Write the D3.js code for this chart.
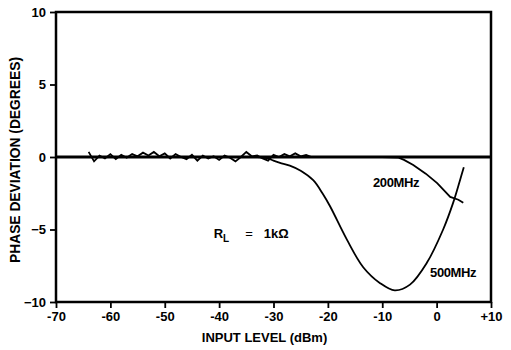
<!DOCTYPE html>
<html>
<head>
<meta charset="utf-8">
<script src="https://cdn.jsdelivr.net/npm/d3@7"></script>
<style>
  body { margin: 0; background: #fff; }
  text { font-family: "Liberation Sans", Arial, sans-serif; font-weight: bold; fill: #000; }
</style>
</head>
<body>
<div id="chart"></div>
<script>
// input level (dBm) / phase deviation (degrees)
var xTicks = [-70, -60, -50, -40, -30, -20, -10, 0, 10];
var xTickLabels = ['-70', '-60', '-50', '-40', '-30', '-20', '-10', '0', '+10'];
var yTicks = [-10, -5, 0, 5, 10];

var level200 = [-64, -63, -62, -61, -60, -59, -58, -57, -56, -55, -54, -53, -52, -51, -50, -49, -48, -47, -46, -45,
                -44, -43, -42, -41, -40, -39, -38, -37, -36, -35, -34, -33, -32, -31, -30, -29, -28, -27, -26, -25,
                -24, -23, -20, -10, -7, -6, -4.3, -2, 0.1, 2.5, 4, 4.9];
var phase200 = [0.35, -0.3, 0.1, -0.1, 0.2, -0.15, 0.15, -0.05, 0.2, 0.05, 0.3, 0.1, 0.35, 0.05, 0.25, -0.1, 0.2, 0, -0.15, 0.15,
                -0.25, 0.1, -0.1, 0.05, -0.2, 0.1, -0.05, -0.3, 0, 0.35, 0.05, 0.1, -0.1, -0.25, 0.15, 0, 0.2, 0.05, 0.25, 0.05,
                0.15, 0, 0, 0, -0.05, -0.2, -0.55, -1.15, -1.8, -2.75, -2.95, -3.15];

var level500 = [-33, -31, -30, -28.8, -27, -25, -22.7, -21, -19.6, -16.5, -13.5, -10.4, -7.7, -4.9, -1.8, 1.2, 3.0, 4.3, 5.0];
var phase500 = [0, -0.1, -0.25, -0.4, -0.6, -0.95, -1.6, -2.5, -3.4, -5.7, -7.6, -8.7, -9.2, -8.8, -7.3, -5.0, -3.2, -1.6, -0.7];

var margin = {top: 12, right: 20, bottom: 48, left: 56},
    width = 491 - margin.left,
    height = 302 - margin.top;

var svg = d3.select('#chart')
            .append('svg')
            .attr('width', 511)
            .attr('height', 350)
            .append('g')
            .attr('transform', 'translate(' + margin.left + ',' + margin.top + ')');

var x = d3.scaleLinear().domain([-70, 10]).range([0, width]);
var y = d3.scaleLinear().domain([-10, 10]).range([height, 0]);

// frame
svg.append('rect')
    .attr('width', width)
    .attr('height', height)
    .attr('fill', 'none')
    .attr('stroke', '#000')
    .attr('stroke-width', 2.5);

// x axis
var xAxis = svg.append('g')
    .attr('transform', 'translate(0,' + height + ')')
    .call(d3.axisBottom(x).tickValues(xTicks).tickSize(6).tickPadding(4)
          .tickFormat((d, i) => xTickLabels[i]));
xAxis.select('.domain').remove();
xAxis.selectAll('line').attr('stroke-width', 1.8);
xAxis.selectAll('text').style('font-size', '13px');

// y axis
var yAxis = svg.append('g')
    .call(d3.axisLeft(y).tickValues(yTicks).tickSize(6).tickPadding(4));
yAxis.select('.domain').remove();
yAxis.selectAll('line').attr('stroke-width', 1.8);
yAxis.selectAll('text').style('font-size', '13px');

// zero line
svg.append('line')
    .attr('x1', 0).attr('x2', width)
    .attr('y1', y(0)).attr('y2', y(0))
    .attr('stroke', '#000')
    .attr('stroke-width', 3);

// curves
var line200 = d3.line().x(d => x(d[0])).y(d => y(d[1]));
var line500 = d3.line().x(d => x(d[0])).y(d => y(d[1])).curve(d3.curveCatmullRom);

svg.append('path')
    .datum(level200.map((d, i) => [d, phase200[i]]))
    .attr('d', line200)
    .attr('fill', 'none')
    .attr('stroke', '#000')
    .attr('stroke-width', 1.8);

svg.append('path')
    .datum(level500.map((d, i) => [d, phase500[i]]))
    .attr('d', line500)
    .attr('fill', 'none')
    .attr('stroke', '#000')
    .attr('stroke-width', 1.8);

// labels
svg.append('text')
    .attr('x', x(-11.7)).attr('y', y(-2.1))
    .style('font-size', '13px')
    .style('letter-spacing', '-0.4px')
    .text('200MHz');

svg.append('text')
    .attr('x', x(-1.2)).attr('y', y(-8.25))
    .style('font-size', '13px')
    .style('letter-spacing', '-0.4px')
    .text('500MHz');

var rl = svg.append('text')
    .attr('x', x(-41)).attr('y', y(-5.6))
    .style('font-size', '13px');
rl.append('tspan').text('R');
rl.append('tspan').attr('dy', 4).style('font-size', '10px').text('L');
rl.append('tspan').attr('dy', -4).attr('dx', 16).style('font-weight', 'normal').text('=');
rl.append('tspan').attr('dx', 11).text('1kΩ');

// axis titles
svg.append('text')
    .attr('x', width / 2 - 9)
    .attr('y', height + 40)
    .attr('text-anchor', 'middle')
    .style('font-size', '13px')
    .text('INPUT LEVEL (dBm)');

svg.append('text')
    .attr('transform', 'translate(-36,' + (height / 2 + 3) + ') rotate(-90)')
    .attr('text-anchor', 'middle')
    .style('font-size', '13.8px')
    .text('PHASE DEVIATION (DEGREES)');
</script>
</body>
</html>
